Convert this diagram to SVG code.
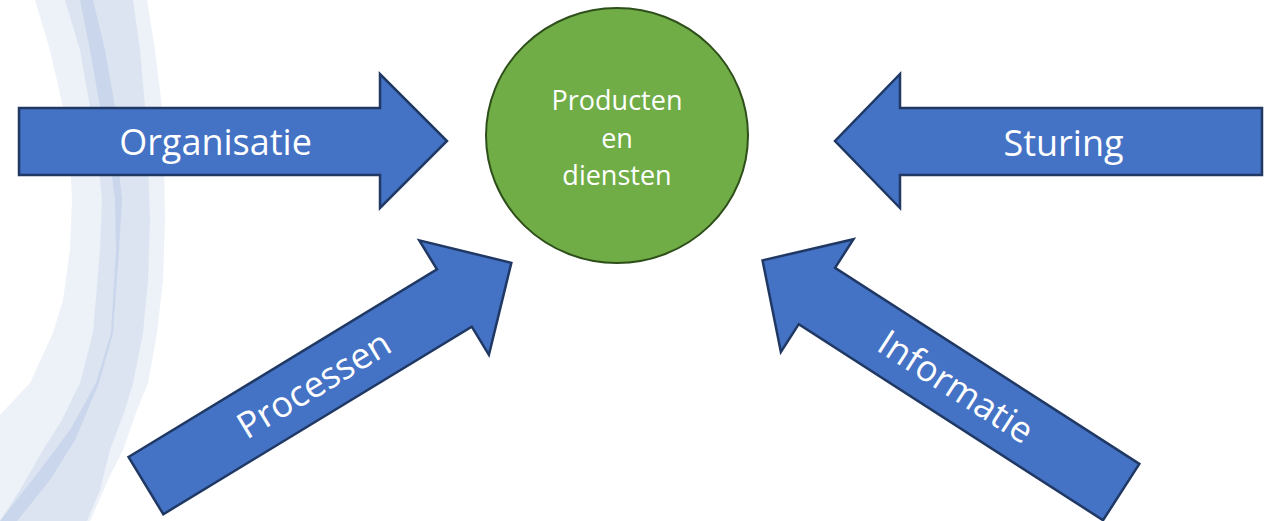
<svg xmlns="http://www.w3.org/2000/svg" width="1269" height="521" viewBox="0 0 1269 521">
  <style>
    .arrow { fill: #4472C4; stroke: #1F3864; stroke-width: 2.5; stroke-linejoin: miter; }
    .lbl { fill: #FFFFFF; font-family: "Open Sans", "Liberation Sans", sans-serif; font-size: 36px; text-anchor: middle; }
    .clbl { fill: #FFFFFF; font-family: "Open Sans", "Liberation Sans", sans-serif; font-size: 27px; text-anchor: middle; }
  </style>
  <defs>
    <path id="arrowRight" d="M19,108 H380 V74 L447,141 L380,208 V175 H19 Z"/>
    <path id="arrowLeft" d="M1262,108 H900 V74 L835,141 L900,208 V175 H1262 Z"/>
  </defs>
  <rect width="1269" height="521" fill="#FFFFFF"/>
  <g id="background">
    <polygon fill="#EDF1F8" points="35,0 50,50 63,107 70,160 72,200 70,250 63,300 53,333 30,383 0,415 0,521 90,521 108,480 123,450 137,410 148,383 157,333 163,280 165,220 164,160 162,107 155,50 147,0"/>
    <polygon fill="#DCE4F1" points="65,0 80,50 90,107 98,160 102,200 100,250 93,333 80,383 62,420 43,450 20,490 0,521 87,521 100,490 110,450 125,410 133,383 143,333 148,280 150,220 148,160 145,107 140,50 133,0"/>
    <polygon fill="#C9D6EB" points="80,0 90,50 100,107 110,160 115,200 116,250 111,333 96,383 70,430 40,470 0,521 17,521 50,480 75,440 99,383 113,333 119,250 122,200 118,160 115,107 105,50 93,0"/>
  </g>
  <g id="connectors">
    <g id="arrow-organisatie">
      <use href="#arrowRight" class="arrow"/>
      <text class="lbl" x="215.5" y="155">Organisatie</text>
    </g>
    <g id="arrow-sturing">
      <use href="#arrowLeft" class="arrow"/>
      <text class="lbl" x="1063.5" y="156">Sturing</text>
    </g>
    <g id="arrow-processen" transform="translate(328.5,374) rotate(-31.3) translate(-233,-141)">
      <use href="#arrowRight" class="arrow"/>
      <text class="lbl" x="215" y="155">Processen</text>
    </g>
    <g id="arrow-informatie" transform="translate(942,376) rotate(32.8) translate(-1048.5,-141)">
      <use href="#arrowLeft" class="arrow"/>
      <text class="lbl" x="1066" y="155">Informatie</text>
    </g>
  </g>
  <g id="node-producten">
    <ellipse cx="617" cy="135.5" rx="131" ry="127.5" fill="#70AD47" stroke="#2E4F1A" stroke-width="2"/>
    <text class="clbl" x="617" y="110">Producten</text>
    <text class="clbl" x="617" y="147.5">en</text>
    <text class="clbl" x="617" y="185">diensten</text>
  </g>
</svg>
